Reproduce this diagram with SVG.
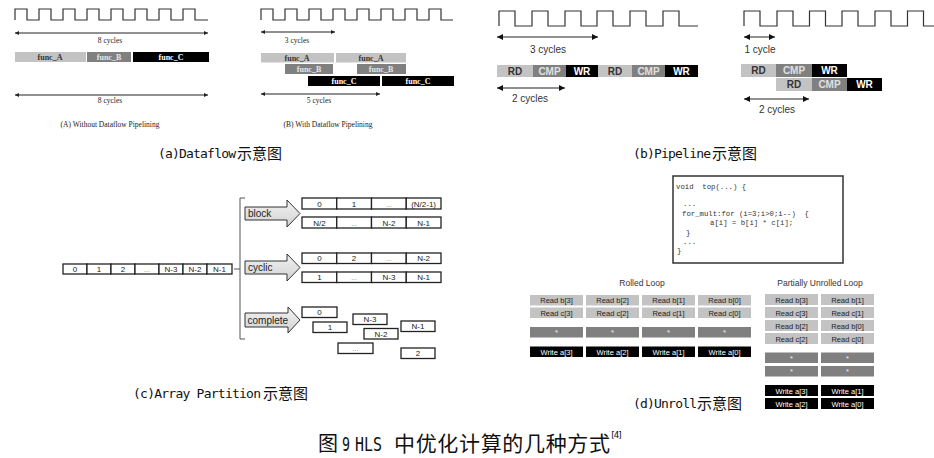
<svg xmlns="http://www.w3.org/2000/svg" width="934" height="458" viewBox="0 0 934 458">
<style>
.serif{font-family:"Liberation Serif","Times New Roman",serif}
.sans{font-family:"Liberation Sans",Arial,sans-serif}
.cap{font-family:"DejaVu Sans Mono","Noto Sans CJK SC",monospace;font-size:13px;fill:#111}
.cjk{font-family:"Noto Sans CJK SC","Noto Sans CJK TC",sans-serif;fill:#111}
.wave{fill:none;stroke:#333;stroke-width:1.2}
.dim{stroke:#222;stroke-width:1}
.cell{fill:#fff;stroke:#222;stroke-width:1.3}
.ct{font-family:"Liberation Sans",Arial,sans-serif;font-size:8px;fill:#222;text-anchor:middle}
.dots{font-family:"Liberation Sans",Arial,sans-serif;font-size:7px;fill:#888;text-anchor:middle}
.blk{fill:url(#ag);stroke:#333;stroke-width:1}
.lt{fill:#c3c3c3}
.md{fill:#808080}
.dk{fill:#000}
.fa{font-family:"Liberation Serif",serif;font-size:8px;font-weight:bold;text-anchor:middle}
.pb{font-family:"Liberation Sans",Arial,sans-serif;font-size:10px;font-weight:bold;text-anchor:middle}
.ul{font-family:"Liberation Sans",Arial,sans-serif;font-size:7.5px;text-anchor:middle}
.code{font-family:"Liberation Mono","Courier New",monospace;font-size:7.3px;fill:#333}
</style>
<defs>
<marker id="ha" viewBox="0 0 10 10" refX="10" refY="5" markerWidth="7" markerHeight="4" orient="auto-start-reverse" markerUnits="userSpaceOnUse"><path d="M0,0 L10,5 L0,10 z" fill="#222"/></marker>
<marker id="hb" viewBox="0 0 10 10" refX="10" refY="5" markerWidth="9" markerHeight="6" orient="auto-start-reverse" markerUnits="userSpaceOnUse"><path d="M0,0 L10,5 L0,10 z" fill="#111"/></marker>
<linearGradient id="ag" x1="0" y1="0" x2="0" y2="1"><stop offset="0" stop-color="#f2f2f2"/><stop offset="1" stop-color="#d2d2d2"/></linearGradient>
</defs>
<rect width="934" height="458" fill="#fff"/>

<!-- Panel (a) left -->
<g id="a-left">
<path class="wave" d="M15,20 V9 H27 V20 H39 V9 H51 V20 H63 V9 H75 V20 H87 V9 H99 V20 H111 V9 H123 V20 H135 V9 H147 V20 H159 V9 H171 V20 H183 V9 H195 V20 H208"/>
<text class="serif" x="110" y="43" font-size="7.5" text-anchor="middle" fill="#222">8 cycles</text>
<g id="a-left-funcA"><rect class="lt" x="15" y="52" width="71" height="10"/><text class="fa" x="50" y="60" fill="#333">func_A</text></g>
<g id="a-left-funcB"><rect class="md" x="87" y="52" width="44" height="10"/><text class="fa" x="109" y="60" fill="#e6e6e6">func_B</text></g>
<g id="a-left-funcC"><rect class="dk" x="133" y="52" width="76" height="10"/><text class="fa" x="171" y="60" fill="#fff">func_C</text></g>
<text class="serif" x="110" y="103" font-size="7.5" text-anchor="middle" fill="#222">8 cycles</text>
<text class="serif" x="110" y="127" font-size="7.5" text-anchor="middle" fill="#222">(A) Without Dataflow Pipelining</text>
</g>

<!-- Panel (a) right -->
<g id="a-right">
<path class="wave" d="M261,20 V9 H273 V20 H285 V9 H297 V20 H309 V9 H321 V20 H333 V9 H345 V20 H357 V9 H369 V20 H381 V9 H393 V20 H405 V9 H417 V20 H429 V9 H441 V20 H453"/>
<text class="serif" x="297" y="43" font-size="7.5" text-anchor="middle" fill="#222">3 cycles</text>
<g id="a-right-funcA1"><rect class="lt" x="261" y="53" width="73" height="9.5"/><text class="fa" x="297" y="60.5" fill="#333">func_A</text></g>
<g id="a-right-funcA2"><rect class="lt" x="336" y="53" width="70" height="9.5"/><text class="fa" x="371" y="60.5" fill="#333">func_A</text></g>
<g id="a-right-funcB1"><rect class="md" x="285" y="64" width="48" height="10"/><text class="fa" x="309" y="71.5" fill="#e6e6e6">func_B</text></g>
<g id="a-right-funcB2"><rect class="md" x="357" y="64" width="49" height="10"/><text class="fa" x="381" y="71.5" fill="#e6e6e6">func_B</text></g>
<g id="a-right-funcC1"><rect class="dk" x="308" y="76" width="72" height="10"/><text class="fa" x="344" y="83.5" fill="#fff">func_C</text></g>
<g id="a-right-funcC2"><rect class="dk" x="382" y="76" width="72" height="10"/><text class="fa" x="418" y="83.5" fill="#fff">func_C</text></g>
<text class="serif" x="319" y="103" font-size="7.5" text-anchor="middle" fill="#222">5 cycles</text>
<text class="serif" x="328" y="127" font-size="7.5" text-anchor="middle" fill="#222">(B) With Dataflow Pipelining</text>
</g>

<!-- Panel (b) left -->
<g id="b-left">
<path class="wave" d="M499,26 V11 H515 V26 H532 V11 H548 V26 H565 V11 H581 V26 H597 V11 H613 V26 H630 V11 H646 V26 H663 V11 H679 V26 H698"/>
<text class="sans" x="548" y="53" font-size="10" text-anchor="middle" fill="#333">3 cycles</text>
<g id="b-left-rd1"><rect class="lt" x="497" y="65" width="36" height="12"/><text class="pb" x="515" y="74.5" fill="#333">RD</text></g>
<g id="b-left-cmp1"><rect class="md" x="533" y="65" width="33" height="12"/><text class="pb" x="549.5" y="74.5" fill="#e0e0e0">CMP</text></g>
<g id="b-left-wr1"><rect class="dk" x="566" y="65" width="32" height="12"/><text class="pb" x="582" y="74.5" fill="#fff">WR</text></g>
<g id="b-left-rd2"><rect class="lt" x="598" y="65" width="34" height="12"/><text class="pb" x="615" y="74.5" fill="#333">RD</text></g>
<g id="b-left-cmp2"><rect class="md" x="632" y="65" width="33" height="12"/><text class="pb" x="648.5" y="74.5" fill="#e0e0e0">CMP</text></g>
<g id="b-left-wr2"><rect class="dk" x="665" y="65" width="33" height="12"/><text class="pb" x="681.5" y="74.5" fill="#fff">WR</text></g>
<text class="sans" x="530" y="102" font-size="10" text-anchor="middle" fill="#333">2 cycles</text>
</g>

<!-- Panel (b) right -->
<g id="b-right">
<path class="wave" d="M744,26 V11 H760 V26 H777 V11 H793 V26 H809.5 V11 H825.5 V26 H842 V11 H858 V26 H875 V11 H891 V26 H907.5 V11 H923.5 V26 H934"/>
<text class="sans" x="760" y="53" font-size="10" text-anchor="middle" fill="#333">1 cycle</text>
<g id="b-right-rd1"><rect class="lt" x="741" y="64" width="35" height="13"/><text class="pb" x="758.5" y="74" fill="#333">RD</text></g>
<g id="b-right-cmp1"><rect class="md" x="776" y="64" width="36" height="13"/><text class="pb" x="794" y="74" fill="#e0e0e0">CMP</text></g>
<g id="b-right-wr1"><rect class="dk" x="812" y="64" width="35" height="13"/><text class="pb" x="829.5" y="74" fill="#fff">WR</text></g>
<g id="b-right-rd2"><rect class="lt" x="776" y="78" width="36" height="13"/><text class="pb" x="794" y="88" fill="#333">RD</text></g>
<g id="b-right-cmp2"><rect class="md" x="812" y="78" width="35" height="13"/><text class="pb" x="829.5" y="88" fill="#e0e0e0">CMP</text></g>
<g id="b-right-wr2"><rect class="dk" x="847" y="78" width="35" height="13"/><text class="pb" x="864.5" y="88" fill="#fff">WR</text></g>
<text class="sans" x="777" y="113" font-size="10" text-anchor="middle" fill="#333">2 cycles</text>
</g>

<!-- Panel (c) -->
<g id="c-array">
<rect class="cell" x="63" y="264" width="24" height="10"/><text class="ct" x="75" y="272">0</text>
<rect class="cell" x="87" y="264" width="24" height="10"/><text class="ct" x="99" y="272">1</text>
<rect class="cell" x="111" y="264" width="24" height="10"/><text class="ct" x="123" y="272">2</text>
<rect class="cell" x="135" y="264" width="24" height="10"/><text class="dots" x="147" y="272">...</text>
<rect class="cell" x="159" y="264" width="24" height="10"/><text class="ct" x="171" y="272">N-3</text>
<rect class="cell" x="183" y="264" width="24" height="10"/><text class="ct" x="195" y="272">N-2</text>
<rect class="cell" x="207" y="264" width="25" height="10"/><text class="ct" x="219.5" y="272">N-1</text>
</g>
<g id="c-block">
<path class="blk" d="M245,207 H287 V200 L300,213.5 L287,227 V220 H245 Z"/>
<text class="sans" x="248" y="217" font-size="10" fill="#222">block</text>
<rect class="cell" x="302" y="198" width="34.75" height="11"/><text class="ct" x="319.4" y="206.5">0</text>
<rect class="cell" x="336.75" y="198" width="34.75" height="11"/><text class="ct" x="354.1" y="206.5">1</text>
<rect class="cell" x="371.5" y="198" width="34.75" height="11"/><text class="dots" x="388.9" y="206.5">...</text>
<rect class="cell" x="406.25" y="198" width="34.75" height="11"/><text class="ct" x="423.6" y="206.5">(N/2-1)</text>
<rect class="cell" x="302" y="217" width="34.75" height="11"/><text class="ct" x="319.4" y="225.5">N/2</text>
<rect class="cell" x="336.75" y="217" width="34.75" height="11"/><text class="dots" x="354.1" y="225.5">...</text>
<rect class="cell" x="371.5" y="217" width="34.75" height="11"/><text class="ct" x="388.9" y="225.5">N-2</text>
<rect class="cell" x="406.25" y="217" width="34.75" height="11"/><text class="ct" x="423.6" y="225.5">N-1</text>
</g>
<g id="c-cyclic">
<path class="blk" d="M245,261 H287 V254 L300,267.5 L287,281 V274 H245 Z"/>
<text class="sans" x="248" y="271" font-size="10" fill="#222">cyclic</text>
<rect class="cell" x="302" y="253" width="34.75" height="10.5"/><text class="ct" x="319.4" y="261">0</text>
<rect class="cell" x="336.75" y="253" width="34.75" height="10.5"/><text class="ct" x="354.1" y="261">2</text>
<rect class="cell" x="371.5" y="253" width="34.75" height="10.5"/><text class="dots" x="388.9" y="261">...</text>
<rect class="cell" x="406.25" y="253" width="34.75" height="10.5"/><text class="ct" x="423.6" y="261">N-2</text>
<rect class="cell" x="302" y="272" width="34.75" height="10.5"/><text class="ct" x="319.4" y="280">1</text>
<rect class="cell" x="336.75" y="272" width="34.75" height="10.5"/><text class="dots" x="354.1" y="280">...</text>
<rect class="cell" x="371.5" y="272" width="34.75" height="10.5"/><text class="ct" x="388.9" y="280">N-3</text>
<rect class="cell" x="406.25" y="272" width="34.75" height="10.5"/><text class="ct" x="423.6" y="280">N-1</text>
</g>
<g id="c-complete">
<path class="blk" d="M245,313 H288 V307 L300,320 L288,333 V327 H245 Z"/>
<text class="sans" x="247.5" y="324" font-size="10" fill="#222">complete</text>
<rect class="cell" x="302" y="307" width="35" height="10.5"/><text class="ct" x="319.5" y="315">0</text>
<rect class="cell" x="313" y="322" width="34" height="10.5"/><text class="ct" x="330" y="330">1</text>
<rect class="cell" x="353" y="314" width="34" height="10.5"/><text class="ct" x="370" y="322">N-3</text>
<rect class="cell" x="364" y="328.5" width="34" height="10.5"/><text class="ct" x="381" y="336.5">N-2</text>
<rect class="cell" x="401" y="321" width="34" height="10.5"/><text class="ct" x="418" y="329">N-1</text>
<rect class="cell" x="338" y="343" width="35" height="10.5"/><text class="dots" x="355.5" y="351">...</text>
<rect class="cell" x="401" y="348" width="34" height="10.5"/><text class="ct" x="418" y="356">2</text>
</g>

<!-- Panel (d) -->
<g id="d-code">
<rect x="673" y="176" width="170" height="87" fill="#fff" stroke="#333" stroke-width="1.5"/>
<text class="code" x="676" y="189" xml:space="preserve">void  top(...) {</text>
<text class="code" x="683" y="206">...</text>
<text class="code" x="682" y="215.5" xml:space="preserve">for_mult:for (i=3;i&gt;0;i--)  {</text>
<text class="code" x="710" y="225" xml:space="preserve">a[i] = b[i] * c[i];</text>
<text class="code" x="686" y="234.5">}</text>
<text class="code" x="683" y="243.5">...</text>
<text class="code" x="677" y="252.5">}</text>
</g>
<g id="d-rolled">
<text class="ul" x="642" y="286" fill="#333" style="font-size:8.5px">Rolled Loop</text>
<rect class="lt" x="530" y="295" width="53" height="10.5"/><text class="ul" x="556.5" y="303" fill="#222">Read b[3]</text>
<rect class="lt" x="586" y="295" width="53" height="10.5"/><text class="ul" x="612.5" y="303" fill="#222">Read b[2]</text>
<rect class="lt" x="642" y="295" width="53" height="10.5"/><text class="ul" x="668.5" y="303" fill="#222">Read b[1]</text>
<rect class="lt" x="698" y="295" width="53" height="10.5"/><text class="ul" x="724.5" y="303" fill="#222">Read b[0]</text>
<rect class="lt" x="530" y="307.5" width="53" height="10.5"/><text class="ul" x="556.5" y="315.5" fill="#222">Read c[3]</text>
<rect class="lt" x="586" y="307.5" width="53" height="10.5"/><text class="ul" x="612.5" y="315.5" fill="#222">Read c[2]</text>
<rect class="lt" x="642" y="307.5" width="53" height="10.5"/><text class="ul" x="668.5" y="315.5" fill="#222">Read c[1]</text>
<rect class="lt" x="698" y="307.5" width="53" height="10.5"/><text class="ul" x="724.5" y="315.5" fill="#222">Read c[0]</text>
<rect class="md" x="530" y="327" width="53" height="10.5"/><text class="ul" x="556.5" y="335" fill="#eee">*</text>
<rect class="md" x="586" y="327" width="53" height="10.5"/><text class="ul" x="612.5" y="335" fill="#eee">*</text>
<rect class="md" x="642" y="327" width="53" height="10.5"/><text class="ul" x="668.5" y="335" fill="#eee">*</text>
<rect class="md" x="698" y="327" width="53" height="10.5"/><text class="ul" x="724.5" y="335" fill="#eee">*</text>
<rect class="dk" x="530" y="346.5" width="53" height="10.5"/><text class="ul" x="556.5" y="354.5" fill="#fff">Write a[3]</text>
<rect class="dk" x="586" y="346.5" width="53" height="10.5"/><text class="ul" x="612.5" y="354.5" fill="#fff">Write a[2]</text>
<rect class="dk" x="642" y="346.5" width="53" height="10.5"/><text class="ul" x="668.5" y="354.5" fill="#fff">Write a[1]</text>
<rect class="dk" x="698" y="346.5" width="53" height="10.5"/><text class="ul" x="724.5" y="354.5" fill="#fff">Write a[0]</text>
</g>
<g id="d-partial">
<text class="ul" x="820" y="286" fill="#333" style="font-size:8.5px">Partially Unrolled Loop</text>
<rect class="lt" x="765" y="294" width="53" height="11"/><text class="ul" x="791.5" y="302.5" fill="#222">Read b[3]</text>
<rect class="lt" x="821" y="294" width="53" height="11"/><text class="ul" x="847.5" y="302.5" fill="#222">Read b[1]</text>
<rect class="lt" x="765" y="307" width="53" height="11"/><text class="ul" x="791.5" y="315.5" fill="#222">Read c[3]</text>
<rect class="lt" x="821" y="307" width="53" height="11"/><text class="ul" x="847.5" y="315.5" fill="#222">Read c[1]</text>
<rect class="lt" x="765" y="320" width="53" height="11"/><text class="ul" x="791.5" y="328.5" fill="#222">Read b[2]</text>
<rect class="lt" x="821" y="320" width="53" height="11"/><text class="ul" x="847.5" y="328.5" fill="#222">Read b[0]</text>
<rect class="lt" x="765" y="333" width="53" height="11"/><text class="ul" x="791.5" y="341.5" fill="#222">Read c[2]</text>
<rect class="lt" x="821" y="333" width="53" height="11"/><text class="ul" x="847.5" y="341.5" fill="#222">Read c[0]</text>
<rect class="md" x="765" y="352.5" width="53" height="10.5"/><text class="ul" x="791.5" y="360.5" fill="#eee">*</text>
<rect class="md" x="821" y="352.5" width="53" height="10.5"/><text class="ul" x="847.5" y="360.5" fill="#eee">*</text>
<rect class="md" x="765" y="366" width="53" height="10.5"/><text class="ul" x="791.5" y="374" fill="#eee">*</text>
<rect class="md" x="821" y="366" width="53" height="10.5"/><text class="ul" x="847.5" y="374" fill="#eee">*</text>
<rect class="dk" x="765" y="385" width="53" height="11"/><text class="ul" x="791.5" y="393.5" fill="#fff">Write a[3]</text>
<rect class="dk" x="821" y="385" width="53" height="11"/><text class="ul" x="847.5" y="393.5" fill="#fff">Write a[1]</text>
<rect class="dk" x="765" y="398" width="53" height="11"/><text class="ul" x="791.5" y="406.5" fill="#fff">Write a[2]</text>
<rect class="dk" x="821" y="398" width="53" height="11"/><text class="ul" x="847.5" y="406.5" fill="#fff">Write a[0]</text>
</g>

<!-- Connectors -->
<g id="connectors" fill="none">
<line class="dim" x1="15" y1="33" x2="208" y2="33" marker-start="url(#ha)" marker-end="url(#ha)"/>
<line class="dim" x1="15" y1="95" x2="208" y2="95" marker-start="url(#ha)" marker-end="url(#ha)"/>
<line class="dim" x1="261" y1="32" x2="335" y2="32" marker-start="url(#ha)" marker-end="url(#ha)"/>
<line class="dim" x1="261" y1="94" x2="380" y2="94" marker-start="url(#ha)" marker-end="url(#ha)"/>
<line class="dim" x1="497" y1="37" x2="598" y2="37" marker-start="url(#hb)" marker-end="url(#hb)"/>
<line class="dim" x1="497" y1="88" x2="565" y2="88" marker-start="url(#hb)" marker-end="url(#hb)"/>
<line class="dim" x1="744" y1="37" x2="775" y2="37" marker-start="url(#hb)" marker-end="url(#hb)"/>
<line class="dim" x1="744" y1="99" x2="809" y2="99" marker-start="url(#hb)" marker-end="url(#hb)"/>
<line x1="234" y1="269" x2="240" y2="269" stroke="#555" stroke-width="1"/>
<path d="M245,198 H240 V339 H245" stroke="#555" stroke-width="1"/>
</g>

<!-- Captions -->
<g id="captions">
<text class="cap" x="158" y="158" textLength="78">(a)Dataflow</text>
<text class="cjk" x="237" y="159" font-size="15">示意图</text>
<text class="cap" x="633" y="158" textLength="78">(b)Pipeline</text>
<text class="cjk" x="712" y="159" font-size="15">示意图</text>
<text class="cap" x="133" y="398" textLength="128">(c)Array Partition</text>
<text class="cjk" x="263" y="399" font-size="15">示意图</text>
<text class="cap" x="633" y="408" textLength="64">(d)Unroll</text>
<text class="cjk" x="697" y="409" font-size="15">示意图</text>
<text class="cjk" x="318" y="451" font-size="20">图</text>
<text class="cap" x="342" y="451" style="font-size:20px" textLength="8" lengthAdjust="spacingAndGlyphs">9</text>
<text class="cap" x="355" y="451" style="font-size:20px" textLength="27" lengthAdjust="spacingAndGlyphs">HLS</text>
<text class="cjk" x="394" y="451" font-size="21" textLength="216">中优化计算的几种方式</text>
<text class="cap" x="610" y="438" style="font-size:9px" textLength="13">[4]</text>
</g>
</svg>
